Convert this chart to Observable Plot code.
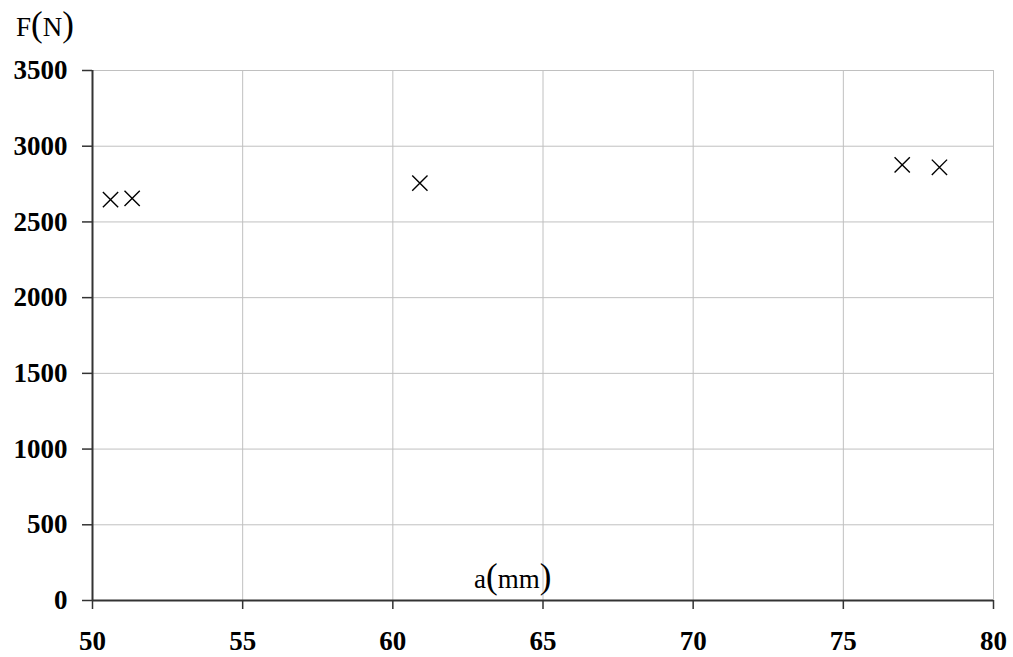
<!DOCTYPE html>
<html><head><meta charset="utf-8">
<script src="https://cdn.jsdelivr.net/npm/d3@7"></script>
<script src="https://cdn.jsdelivr.net/npm/@observablehq/plot@0.6"></script>
<style>
body{margin:0;background:#fff}
#chart g[aria-label$="tick label"], #chart g[aria-label$="tick label"] text { font-size: 27px; font-weight: bold; fill: #000; }
</style>
</head><body><div id="chart"></div>
<script>
const aValues = [50.6, 51.32, 60.9, 76.96, 78.2];
const fValues = [2648, 2655, 2756, 2877, 2861];
const xTicks = [50, 55, 60, 65, 70, 75, 80];
const yTicks = [0, 500, 1000, 1500, 2000, 2500, 3000, 3500];
const data = aValues.map((a, i) => ({a, f: fValues[i]}));

const plot = Plot.plot({
  width: 1013, height: 657,
  marginLeft: 92, marginRight: 20, marginTop: 70, marginBottom: 57,
  style: {fontFamily: "'Liberation Serif', 'Times New Roman', serif", background: "#fff"},
  x: {domain: [50, 80]},
  y: {domain: [0, 3500]},
  marks: [
    Plot.gridX(xTicks, {stroke: "#c0c0c0", strokeOpacity: 1, strokeWidth: 1}),
    Plot.gridY(yTicks, {stroke: "#c0c0c0", strokeOpacity: 1, strokeWidth: 1}),
    Plot.ruleX([50], {stroke: "#333", strokeWidth: 2}),
    Plot.ruleY([0], {stroke: "#333", strokeWidth: 2}),
    Plot.axisX(xTicks, {tickSize: 9, tickPadding: 21, stroke: "#333", strokeWidth: 1.5, fill: "#000", tickFormat: d => String(d), label: null}),
    Plot.axisY(yTicks, {tickSize: 10, tickPadding: 15, stroke: "#333", strokeWidth: 1.5, fill: "#000", tickFormat: d => String(d), label: null}),
    Plot.dot(data, {x: "a", y: "f", symbol: "times", r: 7, stroke: "#000", strokeWidth: 1.4})
  ]
});
document.getElementById("chart").appendChild(plot);
const svg = d3.select(plot);
function addLabel(x, y, parts) {
  const t = svg.append("text").attr("x", x).attr("y", y).attr("text-anchor", "start")
    .style("font-family", "'Liberation Serif', 'Times New Roman', serif")
    .style("font-weight", "normal").attr("fill", "#000");
  parts.forEach(([s, size]) => t.append("tspan").style("font-size", size + "px").text(s));
}
addLabel(16, 36, [["F", 27], ["(", 35], ["N", 27], [")", 35]]);
addLabel(474, 588, [["a", 27], ["(", 35], ["mm", 27], [")", 35]]);
</script></body></html>
